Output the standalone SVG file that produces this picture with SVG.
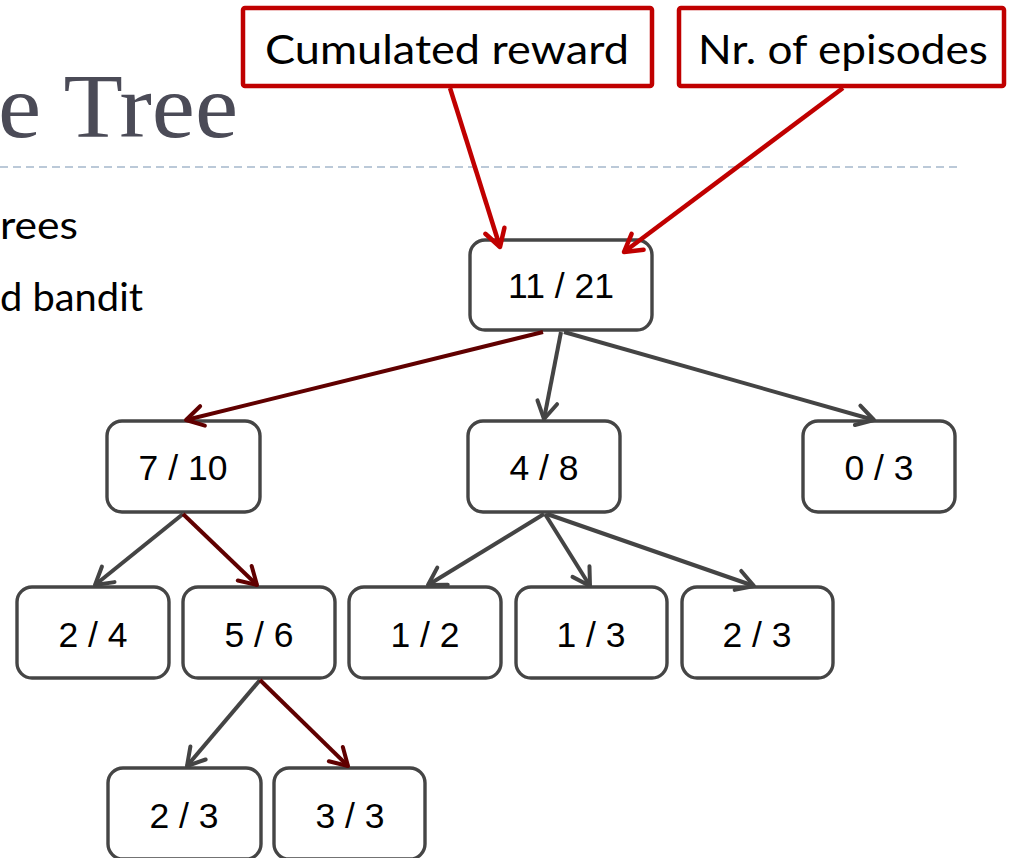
<svg xmlns="http://www.w3.org/2000/svg" width="1011" height="858" viewBox="0 0 1011 858">
<defs>
<style>
.node rect{fill:#fff;stroke:#454545;stroke-width:3.4}
.node text{font-family:"Liberation Sans",Arial,sans-serif;font-size:35.5px;fill:#000;text-anchor:middle}
.lbl rect{fill:#fff;stroke:#c00000;stroke-width:4.5}
.lbl text{font-family:Lato,"Open Sans",sans-serif;font-size:41px;fill:#000}
.e{fill:none;stroke-width:4}
.g{stroke:#444444}
.d{stroke:#600000}
.r{stroke:#c00000;stroke-width:4.5}
.body{font-family:Lato,"Open Sans",sans-serif;font-size:39px;fill:#000}
</style>
<marker id="ag" markerUnits="userSpaceOnUse" viewBox="-24 -16 28 32" markerWidth="28" markerHeight="32" refX="0" refY="0" orient="auto" overflow="visible"><path d="M-17,-10 L0,0 L-17,10" fill="none" stroke="#444444" stroke-width="4" stroke-linecap="round" stroke-linejoin="round"/></marker>
<marker id="ad" markerUnits="userSpaceOnUse" viewBox="-24 -16 28 32" markerWidth="28" markerHeight="32" refX="0" refY="0" orient="auto" overflow="visible"><path d="M-17,-10 L0,0 L-17,10" fill="none" stroke="#600000" stroke-width="4" stroke-linecap="round" stroke-linejoin="round"/></marker>
<marker id="ar" markerUnits="userSpaceOnUse" viewBox="-24 -16 28 32" markerWidth="28" markerHeight="32" refX="0" refY="0" orient="auto" overflow="visible"><path d="M-17,-10 L0,0 L-17,10" fill="none" stroke="#c00000" stroke-width="4.5" stroke-linecap="round" stroke-linejoin="round"/></marker>
</defs>
<rect width="1011" height="858" fill="#fff"/>
<g id="background">
<text x="-2" y="137" font-family="'Liberation Serif',serif" font-size="90" fill="#4b4b57" textLength="240" lengthAdjust="spacingAndGlyphs">e Tree</text>
<line x1="0" y1="167" x2="958" y2="167" stroke="#a5b8cc" stroke-width="1.5" stroke-dasharray="8 5"/>
<text class="body" x="0" y="239" textLength="78" lengthAdjust="spacingAndGlyphs">rees</text>
<text class="body" x="0" y="311" textLength="143" lengthAdjust="spacingAndGlyphs">d bandit</text>
</g>
<g id="label-reward" class="lbl"><rect x="243" y="8" width="409" height="78" rx="2"/><text x="265" y="64" textLength="364" lengthAdjust="spacingAndGlyphs">Cumulated reward</text></g>
<g id="label-episodes" class="lbl"><rect x="679" y="8" width="325" height="78" rx="2"/><text x="698" y="64" textLength="290" lengthAdjust="spacingAndGlyphs">Nr. of episodes</text></g>
<g id="n-root" class="node"><rect x="470" y="240" width="182" height="90" rx="15"/><text x="561" y="298">11 / 21</text></g>
<g id="n-7-10" class="node"><rect x="107" y="421" width="153" height="91" rx="15"/><text x="183" y="480">7 / 10</text></g>
<g id="n-4-8" class="node"><rect x="468" y="421" width="152" height="91" rx="15"/><text x="544" y="480">4 / 8</text></g>
<g id="n-0-3" class="node"><rect x="803" y="421" width="152" height="91" rx="15"/><text x="879" y="480">0 / 3</text></g>
<g id="n-2-4" class="node"><rect x="17" y="587" width="152" height="91" rx="15"/><text x="93" y="647">2 / 4</text></g>
<g id="n-5-6" class="node"><rect x="183" y="587" width="152" height="91" rx="15"/><text x="259" y="647">5 / 6</text></g>
<g id="n-1-2" class="node"><rect x="349" y="587" width="152" height="91" rx="15"/><text x="425" y="647">1 / 2</text></g>
<g id="n-1-3" class="node"><rect x="516" y="587" width="151" height="91" rx="15"/><text x="591" y="647">1 / 3</text></g>
<g id="n-2-3a" class="node"><rect x="682" y="587" width="151" height="91" rx="15"/><text x="757" y="647">2 / 3</text></g>
<g id="n-2-3b" class="node"><rect x="108" y="768" width="153" height="91" rx="15"/><text x="184" y="828">2 / 3</text></g>
<g id="n-3-3" class="node"><rect x="274" y="768" width="151" height="91" rx="15"/><text x="350" y="828">3 / 3</text></g>
<g id="connectors">
<line class="e r" x1="450" y1="88" x2="500" y2="247" marker-end="url(#ar)"/>
<line class="e r" x1="843" y1="88" x2="624" y2="252" marker-end="url(#ar)"/>
<line class="e d" x1="543" y1="332" x2="186" y2="420" marker-end="url(#ad)"/>
<line class="e g" x1="561" y1="332" x2="544" y2="419" marker-end="url(#ag)"/>
<line class="e g" x1="564" y1="332" x2="874" y2="420" marker-end="url(#ag)"/>
<line class="e g" x1="183" y1="514" x2="95" y2="585" marker-end="url(#ag)"/>
<line class="e d" x1="183" y1="514" x2="257" y2="585" marker-end="url(#ad)"/>
<line class="e g" x1="544" y1="514" x2="428" y2="585" marker-end="url(#ag)"/>
<line class="e g" x1="545" y1="514" x2="590" y2="586" marker-end="url(#ag)"/>
<line class="e g" x1="547" y1="514" x2="754" y2="586" marker-end="url(#ag)"/>
<line class="e g" x1="260" y1="680" x2="187" y2="766" marker-end="url(#ag)"/>
<line class="e d" x1="260" y1="680" x2="348" y2="766" marker-end="url(#ad)"/>
</g>
</svg>
